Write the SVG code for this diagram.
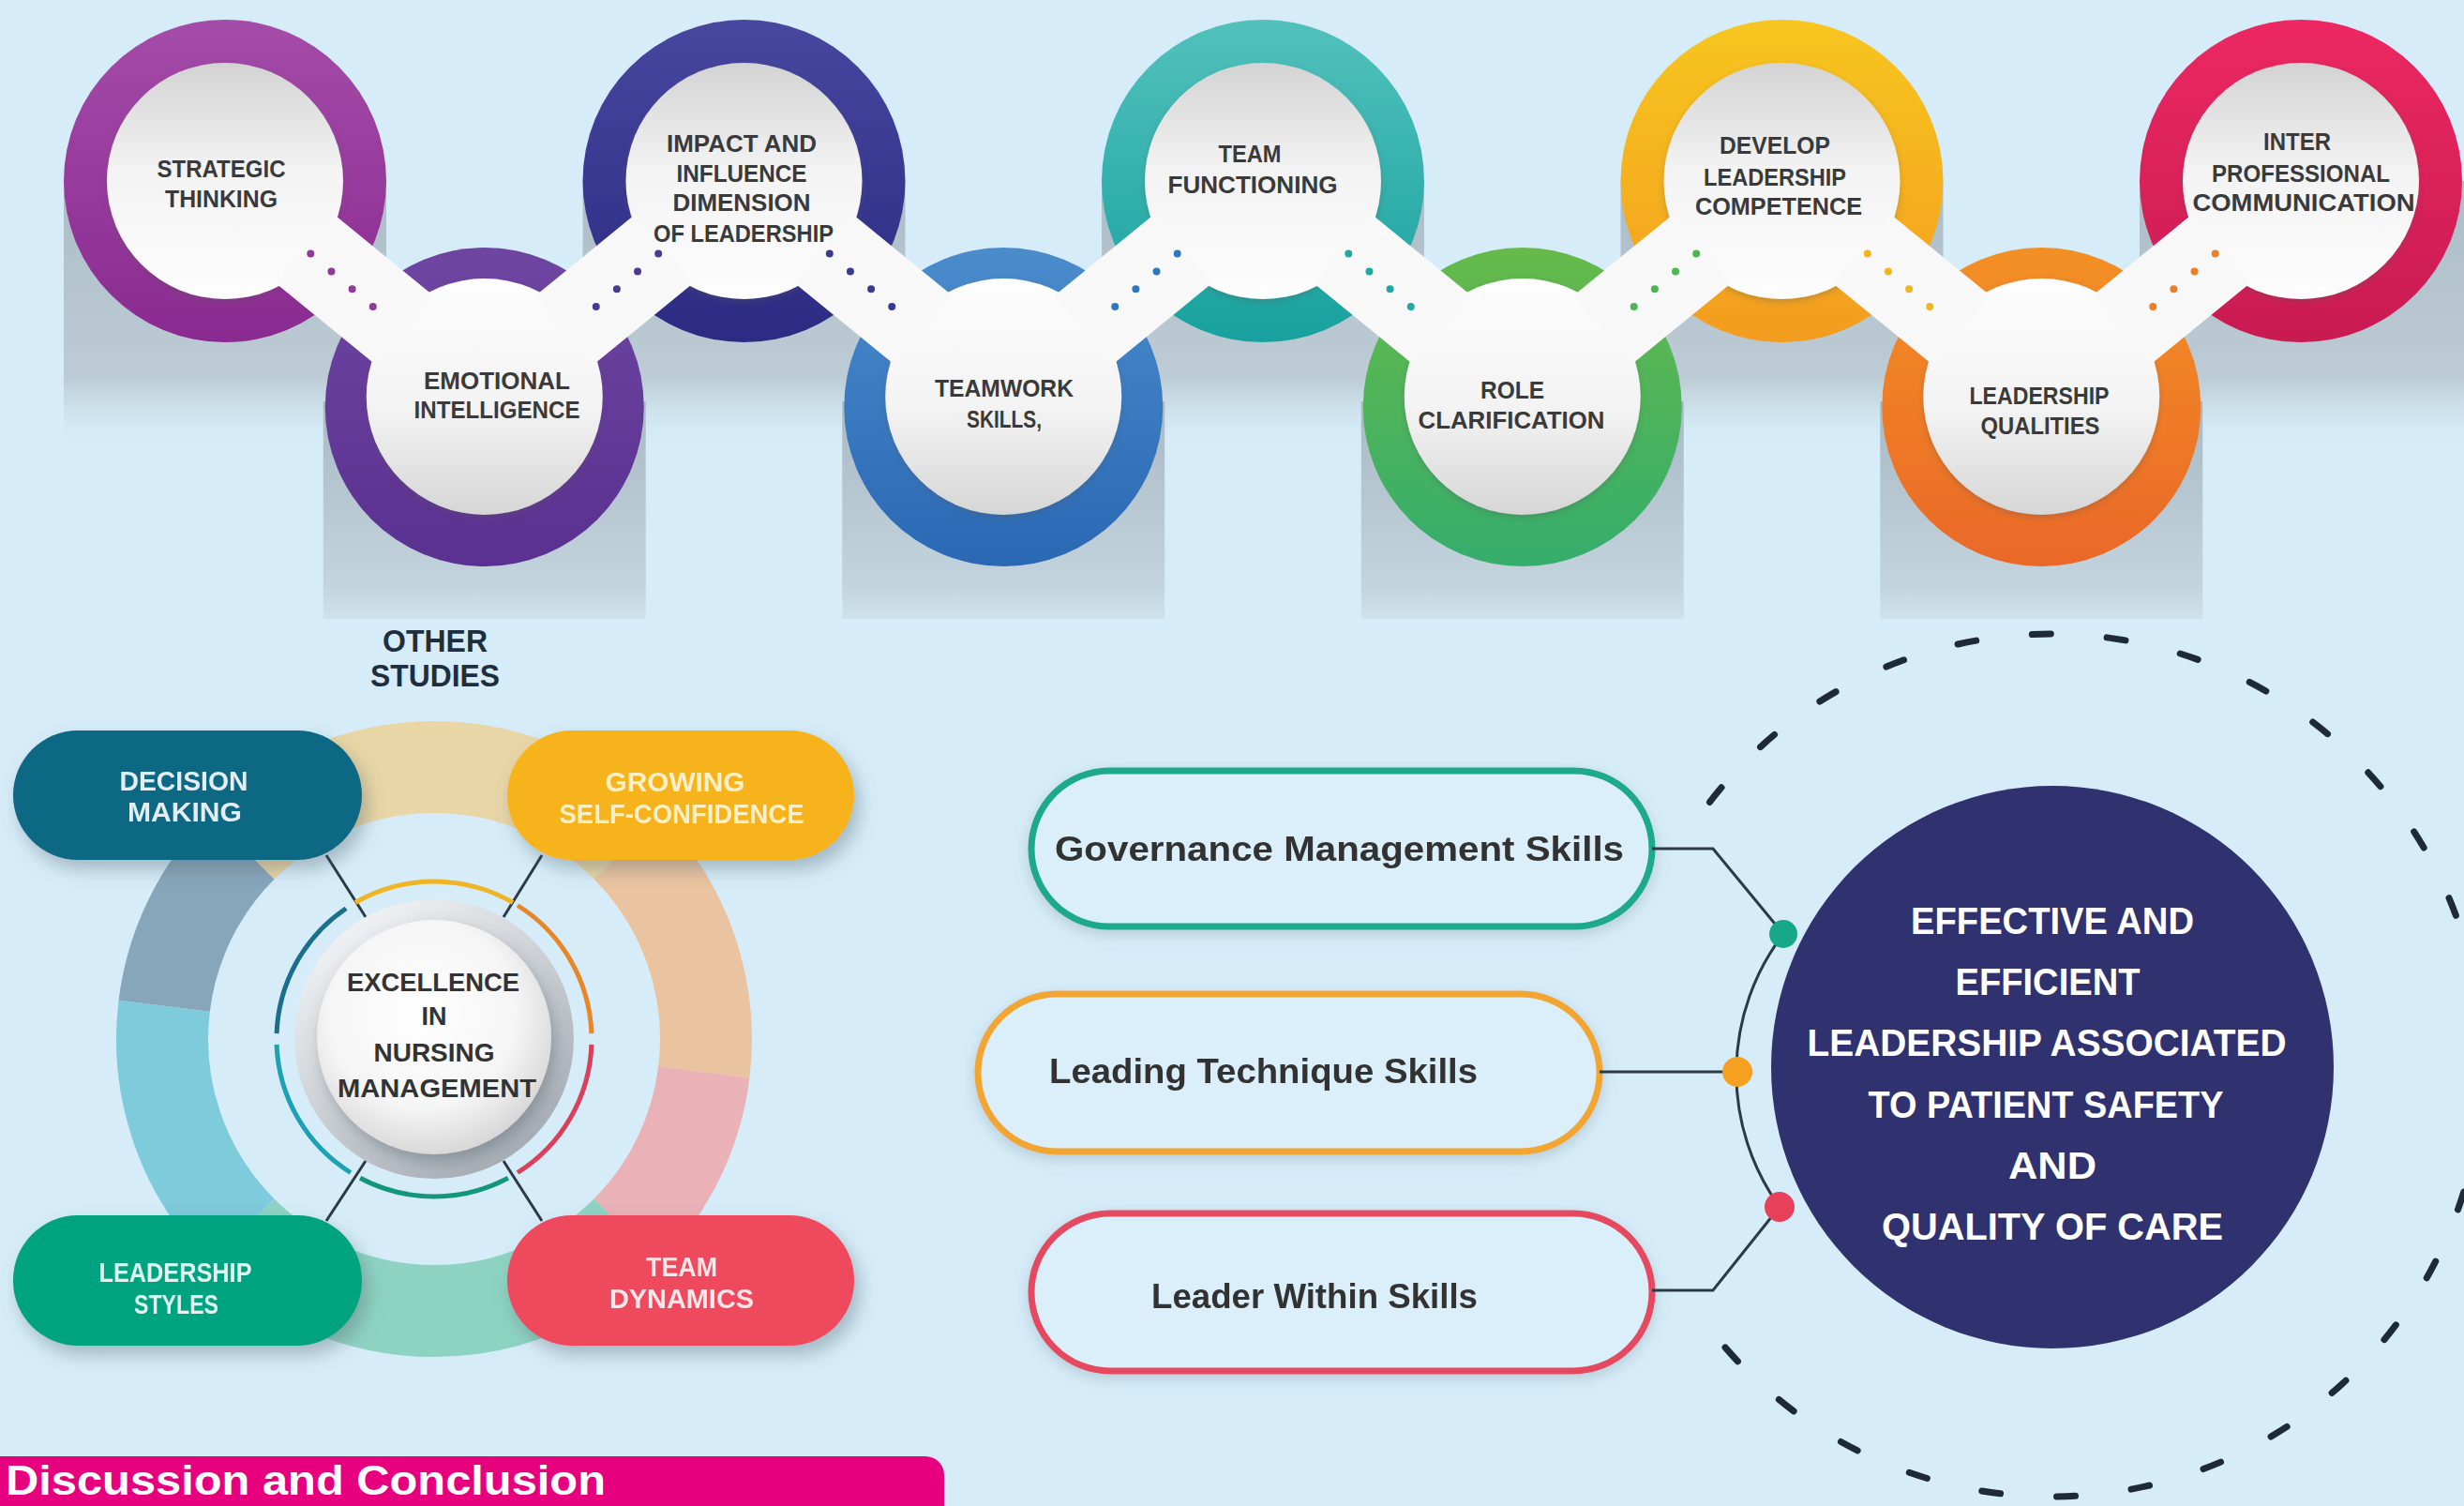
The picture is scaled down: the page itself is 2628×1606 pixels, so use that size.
<svg xmlns="http://www.w3.org/2000/svg" width="2628" height="1606" viewBox="0 0 2628 1606">
<defs>
<style>
.ct{font-family:"Liberation Sans",Arial,sans-serif;font-weight:bold;font-size:26px;fill:#3a3a3a;text-anchor:middle}
.pt{font-family:"Liberation Sans",Arial,sans-serif;font-weight:bold;font-size:29px;text-anchor:middle}
.et{font-family:"Liberation Sans",Arial,sans-serif;font-weight:bold;font-size:28px;fill:#333;text-anchor:middle}
.ot{font-family:"Liberation Sans",Arial,sans-serif;font-weight:bold;font-size:33px;fill:#1f2e3d;text-anchor:middle}
.rt{font-family:"Liberation Sans",Arial,sans-serif;font-weight:bold;font-size:36px;fill:#333}
.nt{font-family:"Liberation Sans",Arial,sans-serif;font-weight:bold;font-size:40px;fill:#fff;text-anchor:middle}
.band{stroke:#f8f8f8;stroke-width:96;fill:none}
.dots{stroke-width:8;stroke-linecap:round;stroke-dasharray:0 29.05;fill:none}
.inT{fill:url(#inG)}
.inB{fill:url(#inG2)}
.seg{fill:none;stroke-width:98}
.arcs{fill:none;stroke-width:5}
.lnk{stroke:#2c3a45;stroke-width:3;fill:none}
.rp{fill:#dbeffa;stroke-width:7}
</style>
<linearGradient id="stripT" x1="0" y1="0" x2="0" y2="1"><stop offset="0" stop-color="#adbdc8"/><stop offset="0.72" stop-color="#bccbd4"/><stop offset="1" stop-color="#d6edf9" stop-opacity="0"/></linearGradient>
<linearGradient id="stripB" x1="0" y1="0" x2="0" y2="1"><stop offset="0" stop-color="#a9b9c4"/><stop offset="0.85" stop-color="#c3d4de"/><stop offset="1" stop-color="#cfe2ec"/></linearGradient>
<linearGradient id="inG" x1="0" y1="0" x2="0" y2="1"><stop offset="0" stop-color="#d3d3d3"/><stop offset="0.45" stop-color="#f3f3f3"/><stop offset="1" stop-color="#fdfdfd"/></linearGradient>
<linearGradient id="inG2" x1="0" y1="0" x2="0" y2="1"><stop offset="0" stop-color="#fdfdfd"/><stop offset="0.55" stop-color="#f3f3f3"/><stop offset="1" stop-color="#d6d6d6"/></linearGradient>
<linearGradient id="g0" x1="0" y1="0" x2="0" y2="1"><stop offset="0" stop-color="#a44ca9"/><stop offset="1" stop-color="#8a2a90"/></linearGradient>
<linearGradient id="g1" x1="0" y1="0" x2="0" y2="1"><stop offset="0" stop-color="#6e46a2"/><stop offset="1" stop-color="#5a3090"/></linearGradient>
<linearGradient id="g2" x1="0" y1="0" x2="0" y2="1"><stop offset="0" stop-color="#4747a0"/><stop offset="1" stop-color="#2c2a82"/></linearGradient>
<linearGradient id="g3" x1="0" y1="0" x2="0" y2="1"><stop offset="0" stop-color="#4a8ccc"/><stop offset="1" stop-color="#2a68b4"/></linearGradient>
<linearGradient id="g4" x1="0" y1="0" x2="0" y2="1"><stop offset="0" stop-color="#52c1bc"/><stop offset="1" stop-color="#17a19e"/></linearGradient>
<linearGradient id="g5" x1="0" y1="0" x2="0" y2="1"><stop offset="0" stop-color="#66ba4a"/><stop offset="1" stop-color="#35ad6c"/></linearGradient>
<linearGradient id="g6" x1="0" y1="0" x2="0" y2="1"><stop offset="0" stop-color="#f7c61f"/><stop offset="1" stop-color="#f39c1e"/></linearGradient>
<linearGradient id="g7" x1="0" y1="0" x2="0" y2="1"><stop offset="0" stop-color="#f39024"/><stop offset="1" stop-color="#ea6828"/></linearGradient>
<linearGradient id="g8" x1="0" y1="0" x2="0" y2="1"><stop offset="0" stop-color="#ec2862"/><stop offset="1" stop-color="#c91a52"/></linearGradient>
<linearGradient id="rimG" x1="0.2" y1="0.1" x2="0.8" y2="0.95"><stop offset="0" stop-color="#eef0f2"/><stop offset="1" stop-color="#a4abb2"/></linearGradient>
<radialGradient id="faceG" cx="0.45" cy="0.4" r="0.62"><stop offset="0" stop-color="#ffffff"/><stop offset="0.65" stop-color="#f5f5f5"/><stop offset="1" stop-color="#d6d6d6"/></radialGradient>
<filter id="psh" x="-20%" y="-30%" width="150%" height="180%"><feDropShadow dx="6" dy="10" stdDeviation="10" flood-color="#4e5f6c" flood-opacity="0.38"/></filter>
<filter id="ssh" x="-30%" y="-30%" width="160%" height="160%"><feDropShadow dx="4" dy="8" stdDeviation="8" flood-color="#4e5f6c" flood-opacity="0.4"/></filter>
<filter id="gsh" x="-10%" y="-20%" width="120%" height="150%"><feDropShadow dx="0" dy="5" stdDeviation="8" flood-color="#6b7c88" flood-opacity="0.3"/></filter>
<filter id="dsh" x="-10%" y="-10%" width="120%" height="125%"><feDropShadow dx="0" dy="3" stdDeviation="3" flood-color="#555" flood-opacity="0.3"/></filter>
</defs>

<rect x="0" y="0" width="2628" height="1606" fill="#d6edf9"/>

<g id="shadow-strips">
<rect x="68" y="193" width="344" height="292" fill="url(#stripT)"/>
<rect x="621.5" y="193" width="344" height="292" fill="url(#stripT)"/>
<rect x="1175" y="193" width="344" height="292" fill="url(#stripT)"/>
<rect x="1728.5" y="193" width="344" height="292" fill="url(#stripT)"/>
<rect x="2282" y="193" width="346" height="292" fill="url(#stripT)"/>
<rect x="344.75" y="428" width="344" height="232" fill="url(#stripB)"/>
<rect x="898.25" y="428" width="344" height="232" fill="url(#stripB)"/>
<rect x="1451.75" y="428" width="344" height="232" fill="url(#stripB)"/>
<rect x="2005.25" y="428" width="344" height="232" fill="url(#stripB)"/>
</g>

<g id="node-strategic-thinking">
<circle cx="240" cy="193" r="172" fill="url(#g0)"/>
<circle class="inT" cx="240" cy="193" r="126" filter="url(#dsh)"/>
<text class="ct" x="236" y="189" textLength="137" lengthAdjust="spacingAndGlyphs">STRATEGIC</text>
<text class="ct" x="236" y="221" textLength="120" lengthAdjust="spacingAndGlyphs">THINKING</text>
</g>
<g id="node-emotional-intelligence">
<circle cx="516.75" cy="434" r="170" fill="url(#g1)"/>
<circle class="inB" cx="516.75" cy="423" r="126" filter="url(#dsh)"/>
<text class="ct" x="530" y="415" textLength="156" lengthAdjust="spacingAndGlyphs">EMOTIONAL</text>
<text class="ct" x="530" y="446" textLength="177" lengthAdjust="spacingAndGlyphs">INTELLIGENCE</text>
</g>
<g id="node-impact-influence">
<circle cx="793.5" cy="193" r="172" fill="url(#g2)"/>
<circle class="inT" cx="793.5" cy="193" r="126" filter="url(#dsh)"/>
<text class="ct" x="791" y="162" textLength="160" lengthAdjust="spacingAndGlyphs">IMPACT AND</text>
<text class="ct" x="791" y="194" textLength="139" lengthAdjust="spacingAndGlyphs">INFLUENCE</text>
<text class="ct" x="791" y="225" textLength="147" lengthAdjust="spacingAndGlyphs">DIMENSION</text>
<text class="ct" x="793" y="258" textLength="192" lengthAdjust="spacingAndGlyphs">OF LEADERSHIP</text>
</g>
<g id="node-teamwork-skills">
<circle cx="1070.25" cy="434" r="170" fill="url(#g3)"/>
<circle class="inB" cx="1070.25" cy="423" r="126" filter="url(#dsh)"/>
<text class="ct" x="1071" y="423" textLength="148" lengthAdjust="spacingAndGlyphs">TEAMWORK</text>
<text class="ct" x="1071" y="456" textLength="80" lengthAdjust="spacingAndGlyphs">SKILLS,</text>
</g>
<g id="node-team-functioning">
<circle cx="1347" cy="193" r="172" fill="url(#g4)"/>
<circle class="inT" cx="1347" cy="193" r="126" filter="url(#dsh)"/>
<text class="ct" x="1333" y="173" textLength="67" lengthAdjust="spacingAndGlyphs">TEAM</text>
<text class="ct" x="1336" y="206" textLength="181" lengthAdjust="spacingAndGlyphs">FUNCTIONING</text>
</g>
<g id="node-role-clarification">
<circle cx="1623.75" cy="434" r="170" fill="url(#g5)"/>
<circle class="inB" cx="1623.75" cy="423" r="126" filter="url(#dsh)"/>
<text class="ct" x="1613" y="425" textLength="68" lengthAdjust="spacingAndGlyphs">ROLE</text>
<text class="ct" x="1612" y="457" textLength="199" lengthAdjust="spacingAndGlyphs">CLARIFICATION</text>
</g>
<g id="node-develop-leadership">
<circle cx="1900.5" cy="193" r="172" fill="url(#g6)"/>
<circle class="inT" cx="1900.5" cy="193" r="126" filter="url(#dsh)"/>
<text class="ct" x="1893" y="164" textLength="118" lengthAdjust="spacingAndGlyphs">DEVELOP</text>
<text class="ct" x="1893" y="198" textLength="152" lengthAdjust="spacingAndGlyphs">LEADERSHIP</text>
<text class="ct" x="1897" y="229" textLength="178" lengthAdjust="spacingAndGlyphs">COMPETENCE</text>
</g>
<g id="node-leadership-qualities">
<circle cx="2177.25" cy="434" r="170" fill="url(#g7)"/>
<circle class="inB" cx="2177.25" cy="423" r="126" filter="url(#dsh)"/>
<text class="ct" x="2175" y="431" textLength="149" lengthAdjust="spacingAndGlyphs">LEADERSHIP</text>
<text class="ct" x="2176" y="463" textLength="127" lengthAdjust="spacingAndGlyphs">QUALITIES</text>
</g>
<g id="node-inter-professional">
<circle cx="2454" cy="193" r="172" fill="url(#g8)"/>
<circle class="inT" cx="2454" cy="193" r="126" filter="url(#dsh)"/>
<text class="ct" x="2450" y="160" textLength="72" lengthAdjust="spacingAndGlyphs">INTER</text>
<text class="ct" x="2454" y="194" textLength="190" lengthAdjust="spacingAndGlyphs">PROFESSIONAL</text>
<text class="ct" x="2457" y="225" textLength="237" lengthAdjust="spacingAndGlyphs">COMMUNICATION</text>
</g>

<g id="chain-connectors">
<line class="band" x1="325.4" y1="265.5" x2="431.35" y2="352"/>
<line class="band" x1="602.15" y1="352" x2="708.1" y2="265.5"/>
<line class="band" x1="878.9" y1="265.5" x2="984.85" y2="352"/>
<line class="band" x1="1155.65" y1="352" x2="1261.6" y2="265.5"/>
<line class="band" x1="1432.4" y1="265.5" x2="1538.35" y2="352"/>
<line class="band" x1="1709.15" y1="352" x2="1815.1" y2="265.5"/>
<line class="band" x1="1985.9" y1="265.5" x2="2091.85" y2="352"/>
<line class="band" x1="2262.65" y1="352" x2="2368.6" y2="265.5"/>
<line class="dots" stroke="#8e3a96" x1="331.3" y1="270.6" x2="419.9" y2="345.75"/>
<line class="dots" stroke="#4b3a95" x1="702.2" y1="270.6" x2="613.6" y2="345.75"/>
<line class="dots" stroke="#3a3a92" x1="884.8" y1="270.6" x2="973.4" y2="345.75"/>
<line class="dots" stroke="#2f78bf" x1="1255.7" y1="270.6" x2="1167.1" y2="345.75"/>
<line class="dots" stroke="#20a8a2" x1="1438.3" y1="270.6" x2="1526.9" y2="345.75"/>
<line class="dots" stroke="#4cb650" x1="1809.2" y1="270.6" x2="1720.6" y2="345.75"/>
<line class="dots" stroke="#f2b51e" x1="1991.8" y1="270.6" x2="2080.4" y2="345.75"/>
<line class="dots" stroke="#ef7e25" x1="2362.7" y1="270.6" x2="2274.1" y2="345.75"/>
</g>

<g id="title-other-studies">
<text class="ot" x="464" y="695" textLength="112" lengthAdjust="spacingAndGlyphs">OTHER</text>
<text class="ot" x="464" y="732" textLength="138" lengthAdjust="spacingAndGlyphs">STUDIES</text>
</g>

<g id="donut-ring">
<path class="seg" stroke="#eac4a0" d="M668.1,902.9 A290,290 0 0 1 750.8,1143.3"/>
<path class="seg" stroke="#eab1b7" d="M750.8,1143.3 A290,290 0 0 1 668.1,1313.1"/>
<path class="seg" stroke="#8ed3c2" d="M668.1,1313.1 A290,290 0 0 1 257.9,1313.1"/>
<path class="seg" stroke="#7ecbdc" d="M257.9,1313.1 A290,290 0 0 1 175.2,1072.7"/>
<path class="seg" stroke="#87a6ba" d="M175.2,1072.7 A290,290 0 0 1 257.9,902.9"/>
<path class="seg" stroke="#e9d6a7" d="M257.9,902.9 A290,290 0 0 1 668.1,902.9"/>
</g>

<g id="hub-connectors">
<line class="lnk" x1="348" y1="912" x2="390" y2="978"/>
<line class="lnk" x1="578" y1="912" x2="537" y2="978"/>
<line class="lnk" x1="390" y1="1238" x2="348" y2="1302"/>
<line class="lnk" x1="537" y1="1238" x2="578" y2="1302"/>
</g>

<g id="node-excellence">
<path class="arcs" stroke="#1b6e8c" d="M295.1,1102.1 A168,168 0 0 1 369.1,968.7"/>
<path class="arcs" stroke="#f0b524" d="M379,962.5 A168,168 0 0 1 547,962.5"/>
<path class="arcs" stroke="#e8862a" d="M552,965.5 A168,168 0 0 1 630.9,1102.1"/>
<path class="arcs" stroke="#d9405a" d="M630.9,1113.9 A168,168 0 0 1 552,1250.5"/>
<path class="arcs" stroke="#14967a" d="M541.9,1256.3 A168,168 0 0 1 384.1,1256.3"/>
<path class="arcs" stroke="#1ca2b2" d="M374,1250.5 A168,168 0 0 1 295.1,1113.9"/>
<circle cx="463" cy="1108" r="149" fill="url(#rimG)"/>
<circle cx="463" cy="1106" r="125" fill="url(#faceG)" filter="url(#ssh)"/>
<text class="et" x="462" y="1057" textLength="184" lengthAdjust="spacingAndGlyphs">EXCELLENCE</text>
<text class="et" x="463" y="1093" textLength="27" lengthAdjust="spacingAndGlyphs">IN</text>
<text class="et" x="463" y="1132" textLength="129" lengthAdjust="spacingAndGlyphs">NURSING</text>
<text class="et" x="466" y="1170" textLength="212" lengthAdjust="spacingAndGlyphs">MANAGEMENT</text>
</g>

<g id="node-decision-making" filter="url(#psh)">
<rect x="14" y="779" width="372" height="138" rx="69" fill="#0f6783"/>
<text class="pt" fill="#e3eef2" x="196" y="843" textLength="137" lengthAdjust="spacingAndGlyphs">DECISION</text>
<text class="pt" fill="#e3eef2" x="197" y="876" textLength="122" lengthAdjust="spacingAndGlyphs">MAKING</text>
</g>
<g id="node-growing-self-confidence" filter="url(#psh)">
<rect x="541" y="779" width="370" height="138" rx="69" fill="#f6b31b"/>
<text class="pt" fill="#fdf0c8" x="720" y="844" textLength="149" lengthAdjust="spacingAndGlyphs">GROWING</text>
<text class="pt" fill="#fdf0c8" x="727" y="878" textLength="261" lengthAdjust="spacingAndGlyphs">SELF-CONFIDENCE</text>
</g>
<g id="node-leadership-styles" filter="url(#psh)">
<rect x="14" y="1296" width="372" height="139" rx="69" fill="#02a37f"/>
<text class="pt" fill="#dff5ee" x="187" y="1367" textLength="163" lengthAdjust="spacingAndGlyphs">LEADERSHIP</text>
<text class="pt" fill="#dff5ee" x="188" y="1401" textLength="90" lengthAdjust="spacingAndGlyphs">STYLES</text>
</g>
<g id="node-team-dynamics" filter="url(#psh)">
<rect x="541" y="1296" width="370" height="139" rx="69" fill="#ee4a5c"/>
<text class="pt" fill="#fde6e9" x="727" y="1361" textLength="76" lengthAdjust="spacingAndGlyphs">TEAM</text>
<text class="pt" fill="#fde6e9" x="727" y="1395" textLength="154" lengthAdjust="spacingAndGlyphs">DYNAMICS</text>
</g>

<g id="dashed-ring">
<path d="M1823.5,855.4 A460,460 0 1 1 1823,1416" fill="none" stroke="#1e2a3a" stroke-width="7" stroke-linecap="round" stroke-dasharray="20 60"/>
</g>

<g id="node-governance" filter="url(#gsh)">
<rect class="rp" stroke="#1aa98c" x="1100" y="822" width="662" height="166" rx="83"/>
<text class="rt" x="1125" y="918" textLength="607" lengthAdjust="spacingAndGlyphs">Governance Management Skills</text>
</g>
<g id="node-leading-technique" filter="url(#gsh)">
<rect class="rp" stroke="#f2a532" x="1043" y="1060" width="663" height="168" rx="84"/>
<text class="rt" x="1119" y="1155" textLength="457" lengthAdjust="spacingAndGlyphs">Leading Technique Skills</text>
</g>
<g id="node-leader-within" filter="url(#gsh)">
<rect class="rp" stroke="#e5485f" x="1100" y="1294" width="662" height="168" rx="84"/>
<text class="rt" x="1228" y="1395" textLength="348" lengthAdjust="spacingAndGlyphs">Leader Within Skills</text>
</g>

<g id="skill-connectors">
<polyline class="lnk" points="1762,905 1827,905 1902,996"/>
<line class="lnk" x1="1706" y1="1143" x2="1853" y2="1143"/>
<polyline class="lnk" points="1762,1376 1827,1376 1898,1287"/>
<path class="lnk" d="M1902,996 A244,244 0 0 0 1898,1287"/>
<circle cx="1902" cy="996" r="15" fill="#17a88a"/>
<circle cx="1853" cy="1143" r="16" fill="#f5a020"/>
<circle cx="1898" cy="1287" r="16" fill="#e6405a"/>
</g>

<g id="node-effective-leadership">
<circle cx="2189" cy="1138" r="300" fill="#30316f"/>
<text class="nt" x="2189" y="996" textLength="302" lengthAdjust="spacingAndGlyphs">EFFECTIVE AND</text>
<text class="nt" x="2184" y="1061" textLength="197" lengthAdjust="spacingAndGlyphs">EFFICIENT</text>
<text class="nt" x="2183" y="1126" textLength="511" lengthAdjust="spacingAndGlyphs">LEADERSHIP ASSOCIATED</text>
<text class="nt" x="2182" y="1192" textLength="379" lengthAdjust="spacingAndGlyphs">TO PATIENT SAFETY</text>
<text class="nt" x="2189" y="1257" textLength="94" lengthAdjust="spacingAndGlyphs">AND</text>
<text class="nt" x="2189" y="1322" textLength="364" lengthAdjust="spacingAndGlyphs">QUALITY OF CARE</text>
</g>

<g id="section-bar">
<rect x="-30" y="1553" width="1037" height="90" rx="20" fill="#e6007e"/>
<text x="6" y="1594" font-family="'Liberation Sans',Arial,sans-serif" font-weight="bold" font-size="44" fill="#ffffff" textLength="640" lengthAdjust="spacingAndGlyphs">Discussion and Conclusion</text>
</g>
</svg>
